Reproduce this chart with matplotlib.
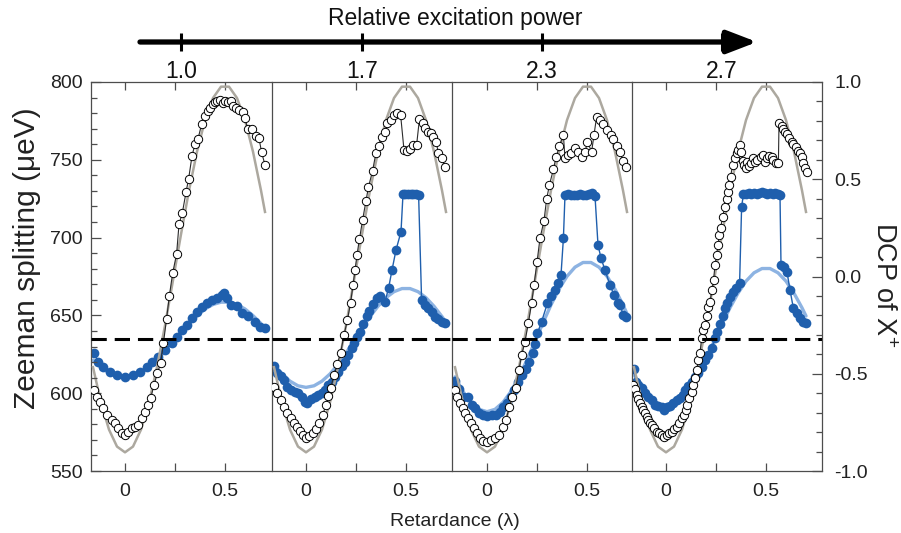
import matplotlib
matplotlib.use('Agg')
import matplotlib.pyplot as plt
from matplotlib.ticker import MultipleLocator, FormatStrFormatter

plt.rcParams['font.family'] = ['Liberation Sans', 'DejaVu Sans']
plt.rcParams['axes.unicode_minus'] = False
plt.rcParams['mathtext.default'] = 'regular'

# ---------------- data ----------------
powers = ['1.0', '1.7', '2.3', '2.7']

# fit curves, common retardance grid
fit_x = [-0.16, -0.12, -0.08, -0.04, 0.0, 0.04, 0.08, 0.12, 0.16, 0.20, 0.24, 0.28,
         0.32, 0.36, 0.40, 0.44, 0.48, 0.52, 0.56, 0.60, 0.64, 0.68, 0.70]
grey_fit = [616.7, 594.0, 576.6, 565.7, 562.0, 565.7, 576.6, 594.0, 616.7, 643.5, 672.6, 702.1,
            730.3, 755.2, 775.5, 789.7, 797.0, 797.0, 789.7, 775.5, 755.2, 730.3, 716.5]
dcp_fit1 = [-0.430, -0.467, -0.496, -0.514, -0.520, -0.514, -0.496, -0.467, -0.430, -0.385, -0.337, -0.289,
            -0.242, -0.201, -0.167, -0.144, -0.132, -0.132, -0.144, -0.167, -0.201, -0.242, -0.265]
dcp_fit2 = [-0.452, -0.501, -0.538, -0.562, -0.570, -0.562, -0.538, -0.501, -0.452, -0.394, -0.331, -0.267,
            -0.206, -0.153, -0.109, -0.078, -0.062, -0.062, -0.078, -0.109, -0.153, -0.206, -0.236]
dcp_fit3 = [-0.516, -0.591, -0.647, -0.683, -0.695, -0.683, -0.647, -0.591, -0.516, -0.429, -0.334, -0.238,
            -0.146, -0.065, 0.001, 0.048, 0.072, 0.072, 0.048, 0.001, -0.065, -0.146, -0.191]
dcp_fit4 = [-0.504, -0.573, -0.626, -0.659, -0.670, -0.659, -0.626, -0.573, -0.504, -0.423, -0.335, -0.246,
            -0.161, -0.086, -0.024, 0.019, 0.041, 0.041, 0.019, -0.024, -0.086, -0.161, -0.203]

# Zeeman splitting (open circles)
zs_x1 = [-0.155, -0.142, -0.125, -0.108, -0.092, -0.067, -0.05, -0.033, -0.017, 0.0, 0.017, 0.033,
         0.05, 0.067, 0.083, 0.1, 0.117, 0.128, 0.145, 0.162, 0.178, 0.192, 0.208, 0.222, 0.238,
         0.258, 0.27, 0.287, 0.305, 0.318, 0.335, 0.35, 0.365, 0.383, 0.4, 0.413, 0.425, 0.438,
         0.45, 0.462, 0.475, 0.488, 0.5, 0.517, 0.528, 0.542, 0.555, 0.572, 0.588, 0.6, 0.613,
         0.633, 0.653, 0.67, 0.683, 0.7]
zs_y1 = [602.1, 597.8, 594.5, 590.3, 586.0, 582.8, 580.7, 577.4, 574.2, 573.1, 575.3, 577.4,
         578.5, 579.6, 583.9, 588.2, 592.4, 596.7, 605.3, 612.8, 619.3, 632.1, 648.0, 662.7, 677.0,
         689.5, 708.5, 716.1, 729.1, 737.7, 752.4, 760.2, 763.4, 772.8, 778.4, 781.4, 783.5, 785.7,
         787.0, 787.8, 788.4, 786.7, 787.8, 787.3, 787.8, 784.6, 783.5, 782.0, 780.9, 776.7, 769.8,
         769.8, 765.5, 763.8, 754.8, 746.7]

zs_x2 = [-0.16, -0.143, -0.127, -0.11, -0.093, -0.077, -0.06, -0.047, -0.03, -0.017, 0.0, 0.017,
         0.033, 0.05, 0.067, 0.083, 0.1, 0.112, 0.123, 0.14, 0.157, 0.173, 0.19, 0.207, 0.223,
         0.235, 0.245, 0.255, 0.267, 0.283, 0.3, 0.312, 0.333, 0.35, 0.363, 0.378, 0.395, 0.407,
         0.423, 0.44, 0.457, 0.473, 0.49, 0.507, 0.52, 0.537, 0.553, 0.567, 0.583, 0.595, 0.612,
         0.623, 0.637, 0.65, 0.662, 0.678, 0.695]
zs_y2 = [603.8, 599.9, 595.6, 591.3, 587.1, 583.9, 581.1, 578.5, 575.7, 573.1, 571.0, 572.5,
         574.6, 576.8, 580.7, 586.0, 592.4, 598.2, 603.1, 611.7, 618.8, 626.0, 637.4, 647.0, 658.2,
         669.4, 679.0, 688.8, 698.9, 711.3, 723.7, 732.3, 743.0, 754.6, 758.9, 764.9, 768.1, 773.5,
         775.6, 778.8, 779.9, 778.8, 756.3, 755.8, 756.7, 759.5, 759.5, 776.0, 773.5, 770.2, 768.1,
         767.0, 764.9, 761.6, 754.6, 751.0, 745.2]

zs_x3 = [-0.16, -0.148, -0.135, -0.122, -0.11, -0.093, -0.082, -0.065, -0.052, -0.035, -0.018, 0.002,
         0.018, 0.04, 0.062, 0.078, 0.095, 0.112, 0.127, 0.143, 0.16, 0.173, 0.19, 0.207, 0.223,
         0.235, 0.25, 0.265, 0.285, 0.298, 0.312, 0.332, 0.345, 0.362, 0.382, 0.39, 0.407, 0.418,
         0.44, 0.457, 0.473, 0.49, 0.502, 0.523, 0.535, 0.548, 0.565, 0.578, 0.598, 0.618, 0.632,
         0.648, 0.665, 0.678, 0.695]
zs_y3 = [602.1, 597.8, 593.5, 590.3, 587.1, 583.9, 580.7, 577.4, 574.2, 571.0, 569.5, 568.9,
         569.9, 571.0, 573.1, 578.5, 582.8, 591.3, 597.8, 603.1, 614.9, 624.5, 633.1, 645.3, 657.8,
         669.4, 684.2, 699.5, 710.9, 724.6, 733.8, 743.9, 751.6, 758.9, 765.9, 750.9, 753.1, 754.6,
         757.4, 755.2, 751.6, 754.8, 761.6, 755.2, 765.9, 777.7, 775.6, 773.0, 769.2, 765.9, 763.2,
         758.9, 755.2, 749.4, 745.2]

zs_x4 = [-0.167, -0.155, -0.147, -0.138, -0.13, -0.122, -0.113, -0.105, -0.097, -0.088, -0.08, -0.072,
         -0.06, -0.047, -0.033, -0.022, -0.01, 0.003, 0.017, 0.028, 0.04, 0.053, 0.067, 0.078, 0.09,
         0.1, 0.107, 0.117, 0.128, 0.137, 0.145, 0.153, 0.162, 0.17, 0.178, 0.187, 0.195, 0.203,
         0.212, 0.22, 0.23, 0.238, 0.245, 0.253, 0.26, 0.267, 0.273, 0.283, 0.295, 0.303, 0.312,
         0.317, 0.323, 0.333, 0.345, 0.353, 0.362, 0.37, 0.373, 0.383, 0.39, 0.4, 0.407, 0.417,
         0.423, 0.437, 0.445, 0.457, 0.473, 0.483, 0.495, 0.503, 0.517, 0.528, 0.537, 0.55, 0.562,
         0.565, 0.578, 0.587, 0.595, 0.603, 0.617, 0.628, 0.637, 0.65, 0.662, 0.67, 0.678, 0.687,
         0.695, 0.703]
zs_y4 = [605.3, 602.5, 598.8, 596.1, 593.5, 591.3, 589.2, 587.1, 584.9, 582.8, 581.1, 579.6,
         577.4, 575.3, 574.2, 573.1, 572.0, 573.1, 574.2, 575.3, 576.8, 578.5, 580.7, 583.9, 586.0,
         589.2, 592.4, 596.7, 600.9, 605.3, 609.6, 614.9, 621.3, 626.0, 635.2, 640.6, 643.8, 649.6,
         655.6, 658.8, 666.3, 672.8, 682.4, 688.8, 695.2, 701.7, 706.0, 713.5, 719.9, 724.6, 729.6,
         733.8, 739.2, 746.7, 751.0, 754.2, 756.3, 759.5, 755.2, 749.4, 746.7, 744.5, 748.8, 746.0,
         748.1, 751.0, 748.8, 749.9, 751.6, 753.1, 748.8, 751.0, 752.4, 751.6, 749.9, 747.8, 748.1,
         773.5, 771.7, 769.6, 768.1, 766.4, 764.3, 761.7, 760.2, 758.0, 755.8, 754.2, 751.6, 747.8,
         744.5, 742.4]

# DCP of X+ (filled blue)
dcp_x1 = [-0.155, -0.133, -0.108, -0.075, -0.042, 0.0, 0.042, 0.075, 0.108, 0.133, 0.167, 0.2,
          0.233, 0.258, 0.283, 0.308, 0.333, 0.358, 0.383, 0.408, 0.433, 0.458, 0.483, 0.495,
          0.512, 0.528, 0.558, 0.583, 0.617, 0.65, 0.675, 0.7]
dcp_y1 = [-0.395, -0.438, -0.464, -0.489, -0.506, -0.515, -0.506, -0.489, -0.464, -0.438, -0.412, -0.378,
          -0.344, -0.309, -0.275, -0.249, -0.215, -0.181, -0.158, -0.135, -0.121, -0.112, -0.095, -0.086,
          -0.112, -0.147, -0.152, -0.189, -0.203, -0.232, -0.258, -0.263]

dcp_x2 = [-0.16, -0.143, -0.127, -0.11, -0.093, -0.077, -0.055, -0.038, -0.022, -0.005, 0.007, 0.023,
          0.045, 0.062, 0.078, 0.095, 0.112, 0.128, 0.145, 0.162, 0.178, 0.195, 0.212, 0.228, 0.24,
          0.257, 0.27, 0.287, 0.303, 0.317, 0.337, 0.353, 0.37, 0.395, 0.413, 0.43, 0.45, 0.475,
          0.485, 0.497, 0.51, 0.523, 0.537, 0.55, 0.563, 0.578, 0.595, 0.612, 0.628, 0.645, 0.662,
          0.678, 0.695]
dcp_y2 = [-0.460, -0.495, -0.512, -0.532, -0.570, -0.584, -0.592, -0.601, -0.618, -0.644, -0.652, -0.632,
          -0.621, -0.609, -0.601, -0.584, -0.558, -0.541, -0.518, -0.489, -0.460, -0.438, -0.404, -0.369, -0.340,
          -0.309, -0.284, -0.244, -0.203, -0.176, -0.141, -0.110, -0.100, -0.130, -0.059, 0.033, 0.136, 0.230,
          0.423, 0.425, 0.423, 0.425, 0.423, 0.423, 0.420, -0.121, -0.147, -0.164, -0.181, -0.207, -0.220,
          -0.232, -0.241]

dcp_x3 = [-0.16, -0.138, -0.118, -0.093, -0.077, -0.06, -0.038, -0.018, 0.002, 0.023, 0.045, 0.065,
          0.082, 0.102, 0.118, 0.135, 0.157, 0.173, 0.195, 0.212, 0.228, 0.24, 0.252, 0.273, 0.302,
          0.32, 0.338, 0.355, 0.37, 0.382, 0.39, 0.405, 0.42, 0.435, 0.45, 0.465, 0.48, 0.495, 0.51,
          0.525, 0.54, 0.555, 0.57, 0.59, 0.615, 0.635, 0.655, 0.665, 0.682, 0.695]
dcp_y3 = [-0.536, -0.580, -0.618, -0.621, -0.661, -0.678, -0.703, -0.712, -0.717, -0.712, -0.712, -0.695,
          -0.669, -0.652, -0.618, -0.584, -0.541, -0.506, -0.477, -0.438, -0.395, -0.345, -0.292, -0.232, -0.138,
          -0.100, -0.069, -0.033, 0.008, 0.196, 0.419, 0.424, 0.419, 0.419, 0.419, 0.424, 0.419, 0.419, 0.424,
          0.430, 0.414, 0.162, 0.095, 0.033, -0.044, -0.095, -0.136, -0.147, -0.198, -0.210]

dcp_x4 = [-0.16, -0.15, -0.138, -0.122, -0.105, -0.088, -0.072, -0.055, -0.038, -0.022, -0.01, 0.003,
          0.02, 0.037, 0.053, 0.07, 0.083, 0.095, 0.112, 0.128, 0.145, 0.162, 0.178, 0.195, 0.212,
          0.228, 0.245, 0.257, 0.27, 0.283, 0.295, 0.307, 0.32, 0.335, 0.35, 0.368, 0.378, 0.387,
          0.40, 0.413, 0.426, 0.44, 0.453, 0.466, 0.48, 0.493, 0.506, 0.52, 0.533, 0.546, 0.558,
          0.57, 0.575, 0.59, 0.605, 0.62, 0.637, 0.653, 0.67, 0.687, 0.7]
dcp_y4 = [-0.477, -0.541, -0.558, -0.575, -0.601, -0.618, -0.635, -0.661, -0.666, -0.673, -0.686, -0.669,
          -0.666, -0.652, -0.635, -0.626, -0.609, -0.584, -0.563, -0.541, -0.518, -0.495, -0.464, -0.429, -0.404,
          -0.369, -0.318, -0.284, -0.244, -0.203, -0.164, -0.138, -0.105, -0.080, -0.059, -0.033, 0.356, 0.424,
          0.424, 0.429, 0.424, 0.429, 0.424, 0.429, 0.435, 0.429, 0.424, 0.429, 0.424, 0.429, 0.424,
          0.419, 0.059, 0.049, 0.023, -0.069, -0.164, -0.189, -0.215, -0.232, -0.237]

dashed_level = 635.0   # in Zeeman units

zs_x = [zs_x1, zs_x2, zs_x3, zs_x4]
zs_y = [zs_y1, zs_y2, zs_y3, zs_y4]
dcp_x = [dcp_x1, dcp_x2, dcp_x3, dcp_x4]
dcp_y = [dcp_y1, dcp_y2, dcp_y3, dcp_y4]
dcp_fits = [dcp_fit1, dcp_fit2, dcp_fit3, dcp_fit4]

# ---------------- style ----------------
blue = '#1f5fad'
light_blue = '#8db3e2'
grey = '#aca89f'
spine_col = '#4d4d4d'

W, H = 901, 533
fig = plt.figure(figsize=(W / 100, H / 100), dpi=100)

# panel placement in pixels (left, width) and x-ranges
panels = [(91, 180), (272, 179), (452, 180), (632, 190)]
xlims = [(-0.17, 0.73), (-0.17, 0.725), (-0.175, 0.725), (-0.17, 0.78)]
bot, hgt = 62, 389

for i in range(4):
    left, width = panels[i]
    ax = fig.add_axes([left / W, bot / H, width / W, hgt / H])
    ax.set_xlim(*xlims[i])
    ax.set_ylim(-1, 1)

    # DCP on the lower layer
    ax.plot(fit_x, dcp_fits[i], color=light_blue, lw=2.4, zorder=1,
            solid_capstyle='round')
    ax.plot(dcp_x[i], dcp_y[i], '-', color=blue, lw=1.0, marker='o', ms=7.0,
            mfc=blue, mec=blue, mew=0, zorder=2)

    # Zeeman splitting on top
    az = ax.twinx()
    az.set_ylim(550, 800)
    az.plot(fit_x, grey_fit, color=grey, lw=1.8, zorder=1)
    az.plot(zs_x[i], zs_y[i], '-', color='#2b2b2b', lw=0.8, marker='o', ms=6.0,
            mfc='white', mec='black', mew=0.7, zorder=2)
    az.axhline(dashed_level, color='black', lw=2.2, dashes=(5, 2.6), zorder=5)

    for s in az.spines.values():
        s.set_visible(False)
    for name, s in ax.spines.items():
        s.set_color(spine_col)
        s.set_linewidth(0.9)
    if i < 3:
        ax.spines['right'].set_visible(False)

    # x ticks
    ax.set_xticks([0, 0.25, 0.5])
    ax.set_xticklabels(['0', '', '0.5'])
    ax.tick_params(axis='x', which='both', direction='in', top=True, bottom=True,
                   length=6, width=0.9, color=spine_col, pad=9, labelsize=14,
                   labelcolor='#222222')

    # y ticks
    ax.tick_params(axis='y', which='both', left=False, right=False,
                   labelleft=False, labelright=False)
    az.tick_params(axis='y', which='both', left=False, right=False,
                   labelleft=False, labelright=False)
    if i == 0:
        az.yaxis.set_major_locator(MultipleLocator(50))
        az.yaxis.set_minor_locator(MultipleLocator(10))
        az.tick_params(axis='y', which='both', left=True, labelleft=True,
                       direction='in', color=spine_col, width=0.9, pad=6,
                       labelsize=14, labelcolor='#222222')
        az.tick_params(axis='y', which='major', length=7)
        az.tick_params(axis='y', which='minor', length=4.5)
    if i == 3:
        ax.yaxis.set_major_locator(MultipleLocator(0.5))
        ax.yaxis.set_minor_locator(MultipleLocator(0.1))
        ax.yaxis.set_major_formatter(FormatStrFormatter('%.1f'))
        ax.tick_params(axis='y', which='both', right=True, labelright=True,
                       direction='in', color=spine_col, width=0.9, pad=9,
                       labelsize=14, labelcolor='#222222')
        ax.tick_params(axis='y', which='major', length=7)
        ax.tick_params(axis='y', which='minor', length=4.5)

# axis titles
fig.text(27 / W, 1 - 258 / H, 'Zeeman splitting (\u03bceV)', rotation=90,
         ha='center', va='center', fontsize=21.5, color='#222222')
fig.text(883 / W, 1 - 285 / H, 'DCP of X$^{+}$', rotation=270,
         ha='center', va='center', fontsize=19.5, color='#222222')
fig.text(455 / W, 1 - 521 / H, 'Retardance (\u03bb)', ha='center', va='center',
         fontsize=14, color='#222222')

# top arrow: relative excitation power
top = fig.add_axes([0, 0, 1, 1])
top.set_xlim(0, W)
top.set_ylim(H, 0)
top.axis('off')
top.patch.set_visible(False)
top.text(455, 18, 'Relative excitation power', ha='center', va='center',
         fontsize=16.5, color='#111111')
top.annotate('', xy=(757, 42), xytext=(140, 42),
             arrowprops=dict(arrowstyle='-|>,head_length=1.3,head_width=0.5',
                             lw=3.8, color='black', mutation_scale=14,
                             shrinkA=0, shrinkB=0))
tick_pos = [181, 362, 542, 722]
for xp, lab in zip(tick_pos, powers):
    top.plot([xp, xp], [33, 51], color='black', lw=2.2, solid_capstyle='butt')
    top.text(xp, 71, lab, ha='center', va='center', fontsize=16.5, color='#111111')

fig.savefig('out.png', dpi=100)
